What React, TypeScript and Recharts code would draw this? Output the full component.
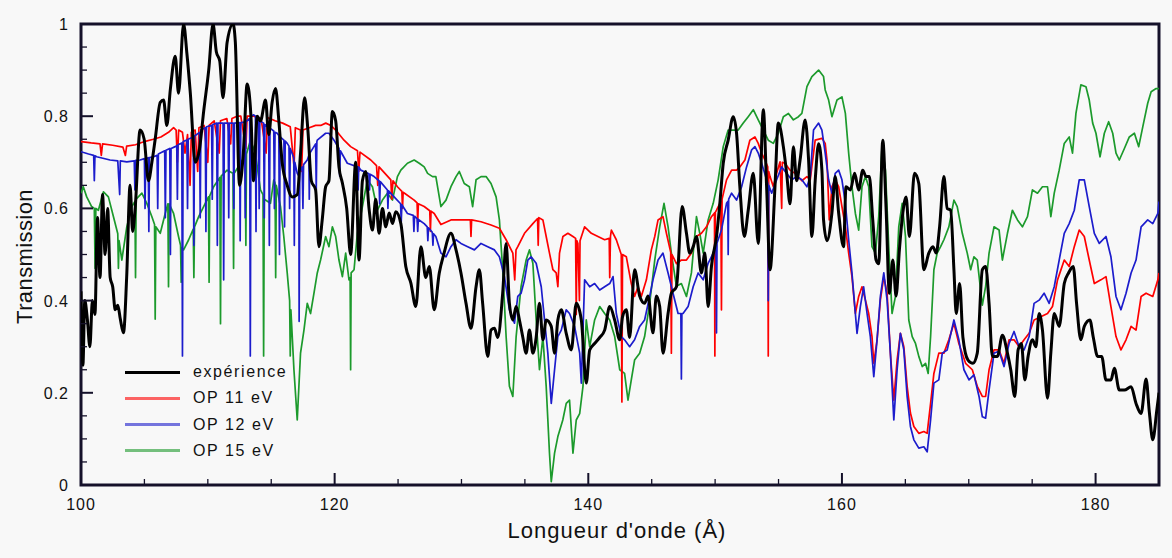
import { LineChart, Line, XAxis, YAxis, ReferenceArea } from "recharts";

// [wavelength (Å), transmission]
type Pt = [number, number];

const experience: Pt[] = [
  [100.0, 0.42], [100.15, 0.26], [100.3, 0.4], [100.5, 0.36], [100.7, 0.3], [100.9, 0.4], [101.1, 0.37],
  [101.3, 0.58], [101.5, 0.45], [101.7, 0.63], [101.9, 0.5], [102.1, 0.6], [102.3, 0.45], [102.5, 0.43],
  [102.7, 0.38], [102.9, 0.39], [103.1, 0.36], [103.35, 0.33], [103.6, 0.45], [103.87, 0.65], [104.07, 0.55],
  [104.27, 0.6], [104.66, 0.77], [104.98, 0.75], [105.32, 0.66], [105.59, 0.7], [105.85, 0.75], [106.25, 0.83],
  [106.51, 0.835], [106.77, 0.78], [107.04, 0.857], [107.43, 0.93], [107.69, 0.85], [108.09, 1.0], [108.35, 0.936],
  [108.62, 0.85], [109.01, 0.7], [109.35, 0.73], [109.67, 0.81], [110.07, 0.9], [110.41, 1.0], [110.67, 0.94],
  [110.94, 0.92], [111.2, 0.84], [111.52, 0.96], [111.99, 1.0], [112.17, 0.96], [112.5, 0.65], [112.8, 0.72],
  [113.1, 0.87], [113.4, 0.8], [113.6, 0.66], [113.9, 0.8], [114.15, 0.79], [114.55, 0.835], [114.8, 0.76],
  [115.07, 0.83], [115.34, 0.86], [115.6, 0.79], [115.86, 0.7], [116.26, 0.65], [116.65, 0.625], [117.05, 0.63],
  [117.31, 0.72], [117.63, 0.84], [117.89, 0.77], [118.16, 0.66], [118.5, 0.64], [118.76, 0.517], [119.02, 0.575],
  [119.29, 0.647], [119.55, 0.66], [119.82, 0.81], [120.08, 0.79], [120.34, 0.69], [120.61, 0.655], [120.95, 0.6],
  [121.26, 0.5], [121.66, 0.7], [121.92, 0.488], [122.19, 0.66], [122.45, 0.68], [122.71, 0.6], [122.98, 0.553],
  [123.24, 0.62], [123.5, 0.546], [123.77, 0.6], [124.03, 0.56], [124.3, 0.59], [124.56, 0.567], [124.82, 0.593],
  [125.22, 0.567], [125.61, 0.474], [126.01, 0.438], [126.4, 0.387], [126.8, 0.517], [127.19, 0.45], [127.46, 0.474],
  [127.85, 0.38], [128.25, 0.46], [128.6, 0.5], [129.17, 0.546], [129.57, 0.51], [129.96, 0.46], [130.36, 0.394],
  [130.75, 0.34], [131.15, 0.43], [131.41, 0.467], [131.67, 0.394], [132.07, 0.279], [132.33, 0.336], [132.6, 0.34],
  [132.86, 0.32], [133.25, 0.416], [133.52, 0.524], [133.78, 0.394], [134.05, 0.358], [134.31, 0.387], [134.57, 0.358],
  [134.84, 0.32], [135.1, 0.286], [135.36, 0.336], [135.63, 0.286], [135.89, 0.32], [136.15, 0.394], [136.42, 0.315],
  [136.68, 0.358], [137.08, 0.344], [137.34, 0.286], [137.6, 0.358], [137.87, 0.38], [138.26, 0.329], [138.66, 0.293],
  [139.05, 0.394], [139.45, 0.358], [139.84, 0.221], [140.11, 0.293], [140.5, 0.307], [140.9, 0.32], [141.29, 0.336],
  [141.69, 0.387], [142.08, 0.358], [142.48, 0.315], [142.7, 0.365], [143.0, 0.38], [143.26, 0.32], [143.65, 0.467],
  [144.05, 0.41], [144.44, 0.394], [144.71, 0.41], [145.1, 0.33], [145.37, 0.41], [145.63, 0.387], [145.89, 0.286],
  [146.29, 0.372], [146.55, 0.416], [146.95, 0.43], [147.4, 0.604], [147.74, 0.546], [148.0, 0.503], [148.27, 0.517],
  [148.53, 0.539], [148.92, 0.46], [149.19, 0.503], [149.45, 0.387], [149.71, 0.474], [150.11, 0.539], [150.37, 0.61],
  [150.64, 0.698], [151.03, 0.748], [151.43, 0.799], [151.69, 0.763], [151.95, 0.647], [152.3, 0.539], [152.61, 0.596],
  [153.01, 0.676], [153.4, 0.524], [153.8, 0.814], [154.06, 0.647], [154.33, 0.467], [154.72, 0.647], [154.98, 0.785],
  [155.38, 0.734], [155.64, 0.676], [155.91, 0.61], [156.17, 0.734], [156.43, 0.66], [156.7, 0.705], [157.1, 0.792],
  [157.37, 0.705], [157.63, 0.539], [157.89, 0.66], [158.16, 0.74], [158.42, 0.683], [158.55, 0.575], [158.82, 0.53],
  [159.21, 0.59], [159.47, 0.669], [159.74, 0.59], [160.13, 0.517], [160.32, 0.647], [160.66, 0.64], [161.0, 0.676],
  [161.32, 0.64], [161.64, 0.683], [161.9, 0.669], [162.16, 0.669], [162.43, 0.575], [162.69, 0.488], [162.9, 0.48],
  [163.22, 0.748], [163.48, 0.6], [163.74, 0.416], [164.01, 0.488], [164.27, 0.41], [164.53, 0.51], [164.8, 0.59],
  [165.06, 0.625], [165.32, 0.539], [165.72, 0.676], [166.06, 0.654], [166.46, 0.467], [166.85, 0.503], [167.17, 0.517],
  [167.43, 0.503], [167.7, 0.56], [168.04, 0.669], [168.3, 0.6], [168.57, 0.596], [168.83, 0.467], [169.01, 0.372],
  [169.28, 0.437], [169.54, 0.32], [169.94, 0.271], [170.33, 0.264], [170.67, 0.286], [171.07, 0.467], [171.33, 0.474],
  [171.6, 0.394], [171.86, 0.279], [172.26, 0.279], [172.65, 0.325], [173.05, 0.286], [173.31, 0.25], [173.63, 0.192],
  [173.89, 0.293], [174.15, 0.307], [174.42, 0.228], [174.68, 0.279], [175.02, 0.315], [175.29, 0.3], [175.55, 0.372],
  [175.81, 0.336], [176.21, 0.188], [176.47, 0.286], [176.74, 0.372], [177.13, 0.344], [177.53, 0.437], [177.87, 0.46],
  [178.24, 0.474], [178.5, 0.394], [178.84, 0.315], [179.11, 0.344], [179.55, 0.358], [179.82, 0.32], [180.16, 0.279],
  [180.48, 0.279], [180.82, 0.228], [181.21, 0.228], [181.48, 0.253], [181.87, 0.206], [182.27, 0.206], [182.8, 0.213],
  [183.19, 0.177], [183.59, 0.155], [183.98, 0.23], [184.25, 0.155], [184.51, 0.098], [184.83, 0.163], [185.0, 0.2],
];

const op11: Pt[] = [
  [100.0, 0.745], [100.8, 0.742], [101.5, 0.74], [101.6, 0.715], [101.7, 0.74], [102.5, 0.737], [103.3, 0.733],
  [103.5, 0.715], [103.6, 0.735], [104.3, 0.738], [105.0, 0.745], [105.7, 0.75], [106.3, 0.755], [106.9, 0.765],
  [107.3, 0.775], [107.5, 0.77], [107.6, 0.7], [107.7, 0.77], [108.0, 0.765], [108.2, 0.72], [108.4, 0.76],
  [108.6, 0.65], [108.7, 0.765], [109.0, 0.77], [109.2, 0.68], [109.3, 0.775], [109.7, 0.78], [110.0, 0.7],
  [110.1, 0.78], [110.5, 0.79], [110.9, 0.72], [111.0, 0.79], [111.5, 0.795], [111.8, 0.74], [111.9, 0.795],
  [112.3, 0.8], [112.6, 0.8], [113.0, 0.73], [113.1, 0.8], [113.6, 0.8], [114.2, 0.795], [114.6, 0.72],
  [114.7, 0.797], [115.3, 0.79], [115.9, 0.785], [116.5, 0.777], [116.8, 0.69], [116.9, 0.775], [117.3, 0.77],
  [117.4, 0.68], [117.5, 0.77], [118.0, 0.775], [118.5, 0.78], [118.9, 0.78], [119.3, 0.785], [119.7, 0.78],
  [120.08, 0.77], [120.74, 0.748], [121.26, 0.734], [121.8, 0.725], [121.9, 0.68], [122.0, 0.722], [122.85, 0.705],
  [123.3, 0.693], [123.4, 0.65], [123.5, 0.69], [124.43, 0.662], [124.5, 0.62], [124.6, 0.66], [124.95, 0.647],
  [125.3, 0.637], [125.35, 0.6], [125.4, 0.635], [126.27, 0.618], [126.5, 0.612], [126.55, 0.57], [126.6, 0.61],
  [127.06, 0.604], [127.5, 0.595], [127.55, 0.55], [127.6, 0.594], [127.85, 0.589], [128.38, 0.565], [129.17, 0.575],
  [129.96, 0.575], [130.7, 0.575], [130.75, 0.539], [130.8, 0.575], [131.54, 0.571], [132.33, 0.564], [132.99, 0.557],
  [133.52, 0.532], [134.05, 0.503], [134.2, 0.445], [134.3, 0.51], [134.44, 0.517], [134.97, 0.546], [135.63, 0.567],
  [136.0, 0.578], [136.05, 0.52], [136.1, 0.58], [136.42, 0.575], [136.68, 0.539], [136.94, 0.503], [137.21, 0.467],
  [137.47, 0.46], [137.6, 0.43], [137.73, 0.503], [138.0, 0.539], [138.39, 0.546], [138.79, 0.539], [139.0, 0.535],
  [139.05, 0.37], [139.1, 0.53], [139.18, 0.524], [139.3, 0.4], [139.35, 0.53], [139.71, 0.56], [140.24, 0.546],
  [140.76, 0.539], [141.29, 0.532], [141.65, 0.535], [141.69, 0.45], [141.75, 0.54], [141.82, 0.553], [142.21, 0.532],
  [142.6, 0.5], [142.65, 0.18], [142.7, 0.5], [143.0, 0.495], [143.39, 0.437], [143.65, 0.409], [143.92, 0.43],
  [144.18, 0.409], [144.58, 0.445], [144.97, 0.51], [145.24, 0.539], [145.5, 0.575], [145.89, 0.582], [146.16, 0.546],
  [146.5, 0.505], [146.55, 0.286], [146.6, 0.5], [146.95, 0.48], [147.34, 0.488], [147.74, 0.488], [148.13, 0.503],
  [148.53, 0.539], [148.92, 0.546], [149.32, 0.56], [149.71, 0.582], [149.95, 0.59], [149.98, 0.28], [150.02, 0.592],
  [150.11, 0.596], [150.45, 0.615], [150.5, 0.38], [150.55, 0.62], [150.9, 0.662], [151.3, 0.683], [151.69, 0.683],
  [151.95, 0.69], [152.35, 0.705], [152.74, 0.748], [153.14, 0.755], [153.4, 0.741], [153.67, 0.72], [153.93, 0.705],
  [154.15, 0.69], [154.19, 0.28], [154.23, 0.68], [154.33, 0.669], [154.59, 0.647], [154.85, 0.676], [155.12, 0.701],
  [155.25, 0.6], [155.3, 0.7], [155.51, 0.698], [155.91, 0.683], [156.3, 0.676], [156.84, 0.66], [157.24, 0.669],
  [157.5, 0.662], [157.89, 0.748], [158.42, 0.752], [158.68, 0.741], [158.82, 0.705], [159.0, 0.575], [159.21, 0.647],
  [159.47, 0.662], [159.74, 0.647], [160.0, 0.604], [160.27, 0.56], [160.53, 0.503], [160.79, 0.452], [161.06, 0.372],
  [161.32, 0.409], [161.58, 0.43], [161.85, 0.401], [162.11, 0.372], [162.37, 0.322], [162.51, 0.264], [162.77, 0.315],
  [163.03, 0.401], [163.3, 0.452], [163.56, 0.416], [163.82, 0.286], [164.09, 0.184], [164.35, 0.271], [164.61, 0.329],
  [164.88, 0.3], [165.14, 0.214], [165.4, 0.156], [165.67, 0.127], [166.06, 0.112], [166.46, 0.116], [166.72, 0.112],
  [166.99, 0.177], [167.25, 0.242], [167.64, 0.286], [168.04, 0.286], [168.43, 0.315], [168.83, 0.351], [169.22, 0.307],
  [169.75, 0.264], [170.28, 0.25], [170.67, 0.214], [171.07, 0.192], [171.33, 0.192], [171.6, 0.25], [171.99, 0.293],
  [172.39, 0.293], [172.78, 0.264], [173.18, 0.315], [173.57, 0.315], [173.97, 0.3], [174.36, 0.315], [174.76, 0.329],
  [175.15, 0.358], [175.68, 0.365], [176.21, 0.372], [176.6, 0.387], [177.0, 0.445], [177.53, 0.488], [177.92, 0.474],
  [178.32, 0.517], [178.71, 0.553], [179.11, 0.539], [179.5, 0.488], [179.9, 0.437], [180.42, 0.445], [180.82, 0.452],
  [181.21, 0.387], [181.61, 0.322], [182.0, 0.293], [182.4, 0.315], [182.8, 0.344], [183.19, 0.336], [183.59, 0.409],
  [183.98, 0.416], [184.51, 0.409], [184.91, 0.445], [185.0, 0.46],
];

const op12: Pt[] = [
  [100.0, 0.723], [100.6, 0.718], [101.0, 0.715], [101.05, 0.66], [101.1, 0.714], [101.24, 0.712], [102.29, 0.705],
  [102.9, 0.703], [103.05, 0.63], [103.1, 0.703], [103.61, 0.701], [104.2, 0.703], [104.25, 0.64], [104.3, 0.704],
  [104.66, 0.705], [105.0, 0.708], [105.05, 0.6], [105.1, 0.708], [105.3, 0.71], [105.35, 0.55], [105.4, 0.71],
  [105.72, 0.712], [106.0, 0.715], [106.05, 0.6], [106.1, 0.718], [106.6, 0.725], [106.65, 0.58], [106.7, 0.726],
  [107.0, 0.73], [107.05, 0.5], [107.1, 0.73], [107.43, 0.734], [107.55, 0.736], [107.6, 0.62], [107.65, 0.738],
  [107.95, 0.742], [108.0, 0.28], [108.05, 0.745], [108.35, 0.748], [108.4, 0.6], [108.45, 0.75], [108.85, 0.755],
  [108.9, 0.52], [108.95, 0.757], [109.35, 0.765], [109.4, 0.58], [109.45, 0.77], [109.8, 0.775], [109.85, 0.55],
  [109.9, 0.777], [110.3, 0.78], [110.35, 0.62], [110.4, 0.782], [110.7, 0.785], [110.75, 0.52], [110.8, 0.785],
  [111.2, 0.785], [111.25, 0.445], [111.3, 0.785], [111.6, 0.785], [111.65, 0.58], [111.7, 0.785], [112.0, 0.785],
  [112.05, 0.6], [112.1, 0.785], [112.5, 0.786], [112.55, 0.53], [112.6, 0.786], [112.9, 0.787], [112.95, 0.58],
  [113.0, 0.788], [113.3, 0.795], [113.35, 0.28], [113.4, 0.8], [113.62, 0.803], [113.75, 0.8], [113.8, 0.55],
  [113.85, 0.8], [114.0, 0.795], [114.05, 0.6], [114.1, 0.79], [114.4, 0.785], [114.45, 0.58], [114.5, 0.782],
  [114.8, 0.775], [114.85, 0.52], [114.9, 0.774], [115.2, 0.768], [115.25, 0.6], [115.3, 0.765], [115.47, 0.763],
  [115.6, 0.758], [115.65, 0.5], [115.7, 0.755], [116.0, 0.748], [116.05, 0.56], [116.1, 0.746], [116.26, 0.741],
  [116.4, 0.735], [116.45, 0.6], [116.5, 0.73], [116.78, 0.71], [116.82, 0.52], [116.86, 0.7], [117.05, 0.676],
  [117.18, 0.67], [117.2, 0.355], [117.25, 0.68], [117.44, 0.69], [117.5, 0.6], [117.55, 0.695], [117.84, 0.705],
  [117.97, 0.715], [118.0, 0.62], [118.05, 0.72], [118.5, 0.74], [118.55, 0.64], [118.6, 0.745], [118.63, 0.748],
  [119.29, 0.763], [119.55, 0.763], [119.95, 0.748], [120.34, 0.73], [120.4, 0.67], [120.45, 0.725], [121.0, 0.698],
  [121.8, 0.69], [121.85, 0.64], [121.9, 0.69], [122.06, 0.683], [122.7, 0.675], [122.75, 0.64], [122.8, 0.674],
  [123.11, 0.669], [123.5, 0.66], [123.55, 0.61], [123.6, 0.658], [124.16, 0.64], [124.2, 0.6], [124.25, 0.638],
  [124.69, 0.625], [125.2, 0.61], [125.25, 0.57], [125.3, 0.608], [125.74, 0.589], [126.2, 0.585], [126.25, 0.55],
  [126.3, 0.583], [126.5, 0.578], [126.55, 0.55], [126.6, 0.576], [127.06, 0.567], [127.3, 0.56], [127.35, 0.53],
  [127.4, 0.558], [127.7, 0.548], [127.75, 0.52], [127.8, 0.545], [127.98, 0.539], [128.38, 0.503], [128.78, 0.495],
  [129.17, 0.517], [129.57, 0.532], [129.96, 0.524], [130.49, 0.517], [131.02, 0.51], [131.54, 0.524], [132.07, 0.517],
  [132.6, 0.51], [132.99, 0.495], [133.39, 0.452], [133.78, 0.38], [134.18, 0.351], [134.44, 0.409], [134.7, 0.416],
  [134.97, 0.445], [135.23, 0.488], [135.49, 0.495], [135.89, 0.481], [136.29, 0.43], [136.55, 0.358], [136.81, 0.286],
  [137.08, 0.177], [137.34, 0.25], [137.6, 0.322], [137.87, 0.336], [138.26, 0.38], [138.52, 0.372], [138.92, 0.344],
  [139.32, 0.286], [139.45, 0.221], [139.71, 0.445], [140.11, 0.43], [140.5, 0.437], [140.9, 0.423], [141.29, 0.43],
  [141.69, 0.437], [141.95, 0.452], [142.21, 0.372], [142.6, 0.322], [142.86, 0.315], [143.26, 0.3], [143.65, 0.315],
  [144.05, 0.344], [144.44, 0.358], [144.84, 0.409], [145.1, 0.445], [145.5, 0.488], [145.89, 0.503], [146.29, 0.46],
  [146.68, 0.416], [147.08, 0.372], [147.3, 0.372], [147.34, 0.23], [147.38, 0.372], [147.47, 0.372], [147.87, 0.387],
  [148.27, 0.43], [148.66, 0.46], [149.06, 0.445], [149.45, 0.481], [149.85, 0.503], [150.07, 0.52], [150.11, 0.33],
  [150.15, 0.525], [150.24, 0.532], [150.5, 0.553], [150.9, 0.611], [151.0, 0.615], [151.03, 0.5], [151.07, 0.62],
  [151.3, 0.633], [151.69, 0.618], [152.09, 0.647], [152.48, 0.69], [152.88, 0.727], [153.14, 0.734], [153.4, 0.72],
  [153.67, 0.698], [154.06, 0.662], [154.15, 0.655], [154.19, 0.4], [154.23, 0.65], [154.46, 0.633], [154.85, 0.662],
  [155.25, 0.69], [155.64, 0.676], [156.04, 0.662], [156.43, 0.669], [156.84, 0.662], [157.24, 0.647], [157.5, 0.669],
  [157.76, 0.77], [158.16, 0.785], [158.42, 0.77], [158.68, 0.72], [158.95, 0.662], [159.21, 0.633], [159.47, 0.676],
  [159.74, 0.683], [160.0, 0.662], [160.27, 0.611], [160.53, 0.532], [160.79, 0.46], [161.19, 0.329], [161.45, 0.387],
  [161.71, 0.43], [161.98, 0.372], [162.24, 0.322], [162.51, 0.235], [162.77, 0.315], [163.03, 0.409], [163.3, 0.46],
  [163.56, 0.401], [163.82, 0.286], [164.09, 0.141], [164.35, 0.25], [164.61, 0.329], [164.88, 0.293], [165.14, 0.192],
  [165.4, 0.127], [165.67, 0.098], [166.06, 0.08], [166.46, 0.083], [166.72, 0.072], [166.99, 0.141], [167.25, 0.221],
  [167.64, 0.228], [167.91, 0.286], [168.3, 0.293], [168.83, 0.358], [169.22, 0.315], [169.62, 0.25], [170.02, 0.228],
  [170.41, 0.239], [170.81, 0.192], [171.07, 0.148], [171.33, 0.145], [171.6, 0.206], [171.99, 0.286], [172.39, 0.29],
  [172.78, 0.257], [173.18, 0.307], [173.57, 0.333], [173.97, 0.3], [174.36, 0.293], [174.76, 0.322], [175.15, 0.394],
  [175.55, 0.401], [175.94, 0.416], [176.34, 0.394], [176.74, 0.43], [177.13, 0.488], [177.53, 0.546], [177.92, 0.567],
  [178.32, 0.596], [178.71, 0.662], [179.11, 0.662], [179.5, 0.604], [179.9, 0.546], [180.29, 0.524], [180.82, 0.539],
  [181.21, 0.495], [181.61, 0.409], [182.0, 0.38], [182.4, 0.416], [182.8, 0.46], [183.19, 0.488], [183.59, 0.56],
  [184.11, 0.575], [184.51, 0.567], [184.91, 0.589], [185.0, 0.615],
];

const op15: Pt[] = [
  [100.0, 0.633], [100.18, 0.647], [100.45, 0.625], [100.84, 0.604], [101.05, 0.6], [101.11, 0.47], [101.17, 0.6],
  [101.37, 0.596], [101.77, 0.636], [102.16, 0.625], [102.56, 0.582], [102.9, 0.545], [102.95, 0.47], [103.0, 0.53],
  [103.22, 0.488], [103.61, 0.56], [104.01, 0.604], [104.25, 0.615], [104.3, 0.45], [104.35, 0.62], [104.8, 0.633],
  [105.19, 0.611], [105.59, 0.582], [105.8, 0.565], [105.85, 0.36], [105.9, 0.56], [106.25, 0.546], [106.64, 0.589],
  [106.85, 0.61], [106.9, 0.43], [106.95, 0.61], [107.3, 0.589], [107.69, 0.539], [107.85, 0.52], [107.9, 0.44],
  [107.95, 0.515], [108.09, 0.51], [108.49, 0.532], [108.85, 0.555], [108.9, 0.45], [108.95, 0.56], [109.28, 0.582],
  [109.67, 0.604], [110.05, 0.625], [110.1, 0.44], [110.15, 0.627], [110.46, 0.647], [110.95, 0.667], [111.0, 0.35],
  [111.05, 0.67], [111.52, 0.683], [111.98, 0.676], [112.03, 0.47], [112.08, 0.676], [112.57, 0.698], [112.95, 0.715],
  [113.0, 0.52], [113.05, 0.718], [113.36, 0.748], [113.75, 0.72], [114.15, 0.64], [114.35, 0.63], [114.4, 0.28],
  [114.45, 0.62], [114.94, 0.611], [115.2, 0.662], [115.3, 0.655], [115.35, 0.45], [115.4, 0.65], [115.73, 0.604],
  [115.99, 0.539], [116.26, 0.46], [116.45, 0.4], [116.5, 0.28], [116.55, 0.38], [116.79, 0.25], [117.05, 0.141],
  [117.31, 0.286], [117.58, 0.336], [117.84, 0.394], [118.1, 0.372], [118.37, 0.416], [118.63, 0.46], [118.89, 0.488],
  [119.29, 0.539], [119.55, 0.517], [119.82, 0.56], [120.08, 0.539], [120.34, 0.488], [120.61, 0.452], [120.87, 0.503],
  [121.13, 0.445], [121.22, 0.45], [121.26, 0.25], [121.3, 0.46], [121.53, 0.467], [121.79, 0.546], [122.19, 0.604],
  [122.58, 0.662], [122.98, 0.647], [123.37, 0.596], [123.77, 0.618], [124.16, 0.633], [124.56, 0.618], [124.95, 0.669],
  [125.22, 0.683], [125.74, 0.698], [126.27, 0.705], [126.67, 0.698], [127.06, 0.69], [127.33, 0.676], [127.72, 0.669],
  [127.98, 0.669], [128.38, 0.604], [128.78, 0.618], [129.17, 0.647], [129.57, 0.669], [129.83, 0.68], [130.22, 0.654],
  [130.62, 0.647], [130.88, 0.604], [131.15, 0.662], [131.54, 0.669], [131.94, 0.669], [132.33, 0.654], [132.73, 0.625],
  [132.99, 0.575], [133.25, 0.467], [133.52, 0.322], [133.78, 0.214], [134.05, 0.192], [134.31, 0.322], [134.7, 0.431],
  [135.1, 0.488], [135.36, 0.51], [135.63, 0.481], [135.89, 0.358], [136.15, 0.25], [136.42, 0.322], [136.68, 0.214],
  [136.94, 0.069], [137.08, 0.007], [137.34, 0.069], [137.6, 0.105], [137.99, 0.141], [138.26, 0.177], [138.52, 0.184],
  [138.79, 0.069], [139.05, 0.141], [139.32, 0.155], [139.58, 0.214], [139.84, 0.358], [140.11, 0.3], [140.5, 0.358],
  [140.9, 0.387], [141.29, 0.372], [141.69, 0.358], [142.08, 0.322], [142.48, 0.25], [142.86, 0.242], [143.13, 0.184],
  [143.39, 0.228], [143.65, 0.271], [144.05, 0.286], [144.44, 0.322], [144.84, 0.394], [145.24, 0.488], [145.63, 0.56],
  [145.97, 0.611], [146.29, 0.56], [146.55, 0.503], [146.95, 0.431], [147.34, 0.437], [147.74, 0.409], [148.13, 0.46],
  [148.53, 0.582], [148.79, 0.546], [149.06, 0.503], [149.45, 0.575], [149.85, 0.611], [150.24, 0.662], [150.64, 0.734],
  [151.03, 0.77], [151.43, 0.77], [151.82, 0.77], [152.22, 0.785], [152.61, 0.799], [153.01, 0.814], [153.4, 0.792],
  [153.8, 0.77], [154.19, 0.748], [154.59, 0.741], [154.98, 0.763], [155.38, 0.799], [155.78, 0.806], [156.17, 0.792],
  [156.57, 0.799], [156.84, 0.806], [157.24, 0.864], [157.63, 0.886], [158.16, 0.9], [158.55, 0.886], [158.68, 0.857],
  [158.95, 0.835], [159.21, 0.799], [159.61, 0.835], [160.0, 0.842], [160.27, 0.806], [160.53, 0.72], [160.79, 0.647],
  [161.06, 0.589], [161.32, 0.553], [161.58, 0.647], [161.85, 0.669], [162.11, 0.647], [162.37, 0.517], [162.64, 0.503],
  [162.9, 0.582], [163.16, 0.734], [163.43, 0.683], [163.69, 0.517], [163.95, 0.372], [164.22, 0.409], [164.48, 0.56],
  [164.75, 0.611], [165.01, 0.539], [165.27, 0.358], [165.54, 0.322], [165.8, 0.307], [166.06, 0.279], [166.33, 0.257],
  [166.59, 0.264], [166.8, 0.242], [166.99, 0.322], [167.25, 0.467], [167.51, 0.503], [167.78, 0.517], [168.04, 0.532],
  [168.43, 0.56], [168.83, 0.618], [169.09, 0.604], [169.49, 0.546], [169.88, 0.503], [170.15, 0.467], [170.41, 0.495],
  [170.67, 0.488], [171.07, 0.39], [171.33, 0.431], [171.6, 0.503], [171.99, 0.56], [172.39, 0.553], [172.65, 0.488],
  [173.05, 0.546], [173.44, 0.596], [173.84, 0.575], [174.23, 0.56], [174.63, 0.582], [175.02, 0.64], [175.42, 0.633],
  [175.81, 0.647], [176.21, 0.647], [176.47, 0.582], [176.74, 0.633], [177.13, 0.683], [177.53, 0.741], [177.92, 0.755],
  [178.18, 0.72], [178.45, 0.806], [178.84, 0.868], [179.24, 0.864], [179.5, 0.835], [179.77, 0.785], [180.03, 0.763],
  [180.35, 0.712], [180.69, 0.763], [181.03, 0.788], [181.35, 0.763], [181.61, 0.72], [181.87, 0.705], [182.27, 0.73],
  [182.66, 0.755], [183.06, 0.763], [183.4, 0.734], [183.72, 0.777], [184.11, 0.828], [184.38, 0.853], [184.77, 0.86],
  [185.0, 0.86],
];

const xTicks = [100, 105, 110, 115, 120, 125, 130, 135, 140, 145, 150, 155, 160, 165, 170, 175, 180, 185];
const xLabels = [100, 120, 140, 160, 180];
const yTicks = [0, 0.05, 0.1, 0.15, 0.2, 0.25, 0.3, 0.35, 0.4, 0.45, 0.5, 0.55, 0.6, 0.65, 0.7, 0.75, 0.8, 0.85, 0.9, 0.95, 1];
const yLabels = [0, 0.2, 0.4, 0.6, 0.8, 1];

const series = [
  { name: "expérience", points: experience, color: "#000000", width: 3, curve: "monotone", legendOpacity: 1 },
  { name: "OP 11 eV", points: op11, color: "#ff0000", width: 1.7, curve: "linear", legendOpacity: 0.6 },
  { name: "OP 12 eV", points: op12, color: "#1c1ccc", width: 1.7, curve: "linear", legendOpacity: 0.6 },
  { name: "OP 15 eV", points: op15, color: "#1c9a2c", width: 1.7, curve: "linear", legendOpacity: 0.6 },
];
const drawOrder = [3, 1, 2, 0];

const FONT = '"Liberation Sans", Arial, Helvetica, sans-serif';
const INK = "#15112a";
const BG = "#f8f8f8";

const toRows = (pts: Pt[]) => pts.map(([wl, t]) => ({ wl, t }));

const YTick = (props: any) => {
  const { x, y, payload } = props;
  const major = yLabels.includes(payload.value);
  return (
    <g>
      <line x1={x} y1={y} x2={x + (major ? 12 : 6)} y2={y} stroke={INK} strokeWidth={major ? 2 : 1.3} />
      {major && (
        <text x={x - 12} y={y + 6} textAnchor="end" fontSize={16} letterSpacing={1} fill="#111" fontFamily={FONT}>
          {payload.value}
        </text>
      )}
    </g>
  );
};

const XTick = (props: any) => {
  const { x, y, payload } = props;
  const major = xLabels.includes(payload.value);
  return (
    <g>
      <line x1={x} y1={y} x2={x} y2={y - (major ? 12 : 6)} stroke={INK} strokeWidth={major ? 2 : 1.3} />
      {major && (
        <text x={x} y={y + 25} textAnchor="middle" fontSize={16} letterSpacing={1} fill="#111" fontFamily={FONT}>
          {payload.value}
        </text>
      )}
    </g>
  );
};

const xTitle = ({ viewBox }: any) => (
  <text
    x={viewBox.x + viewBox.width / 2 - 3}
    y={viewBox.y + 53}
    textAnchor="middle"
    fontSize={22}
    letterSpacing={1}
    fill="#111"
    fontFamily={FONT}
  >
    Longueur d'onde (Å)
  </text>
);

const yTitle = ({ viewBox }: any) => {
  const cx = viewBox.x + 11;
  const cy = viewBox.y + viewBox.height / 2 + 2;
  return (
    <text
      x={cx}
      y={cy}
      transform={`rotate(-90, ${cx}, ${cy})`}
      textAnchor="middle"
      fontSize={22}
      letterSpacing={0.4}
      fill="#111"
      fontFamily={FONT}
    >
      Transmission
    </text>
  );
};

const App = () => {
  return (
    <div style={{ position: "absolute", left: 0, top: 0, width: 1172, height: 558, background: BG }}>
      <LineChart width={1172} height={558} margin={{ top: 24, right: 13, bottom: 43, left: 21 }}>
        <XAxis
          type="number"
          dataKey="wl"
          domain={[100, 185]}
          ticks={xTicks}
          interval={0}
          allowDataOverflow
          axisLine={false}
          tickLine={false}
          tickSize={0}
          tickMargin={0}
          height={30}
          tick={<XTick />}
          label={xTitle}
        />
        <YAxis
          type="number"
          domain={[0, 1]}
          ticks={yTicks}
          interval={0}
          allowDataOverflow
          axisLine={false}
          tickLine={false}
          tickSize={0}
          tickMargin={0}
          width={60}
          tick={<YTick />}
          label={yTitle}
        />
        {drawOrder.map((i) => {
          const s = series[i];
          return (
            <Line
              key={s.name}
              data={toRows(s.points)}
              dataKey="t"
              name={s.name}
              type={s.curve as any}
              stroke={s.color}
              strokeWidth={s.width}
              strokeLinejoin="round"
              dot={false}
              activeDot={false}
              isAnimationActive={false}
            />
          );
        })}
        <ReferenceArea x1={100} x2={185} y1={0} y2={1} fill="none" stroke={INK} strokeWidth={3} ifOverflow="visible" />
      </LineChart>
      <div style={{ position: "absolute", left: 125, top: 0, fontFamily: FONT }}>
        {series.map((s, i) => (
          <div
            key={s.name}
            style={{
              position: "absolute",
              left: 0,
              top: 359 + i * 26.3,
              height: 26,
              display: "flex",
              alignItems: "center",
              whiteSpace: "nowrap",
            }}
          >
            <span
              style={{
                display: "inline-block",
                width: 55,
                height: 3,
                background: s.color,
                opacity: s.legendOpacity,
                marginRight: 13,
              }}
            />
            <span style={{ fontSize: 16, letterSpacing: 1.6, color: "#111" }}>{s.name}</span>
          </div>
        ))}
      </div>
    </div>
  );
};

export default App;
